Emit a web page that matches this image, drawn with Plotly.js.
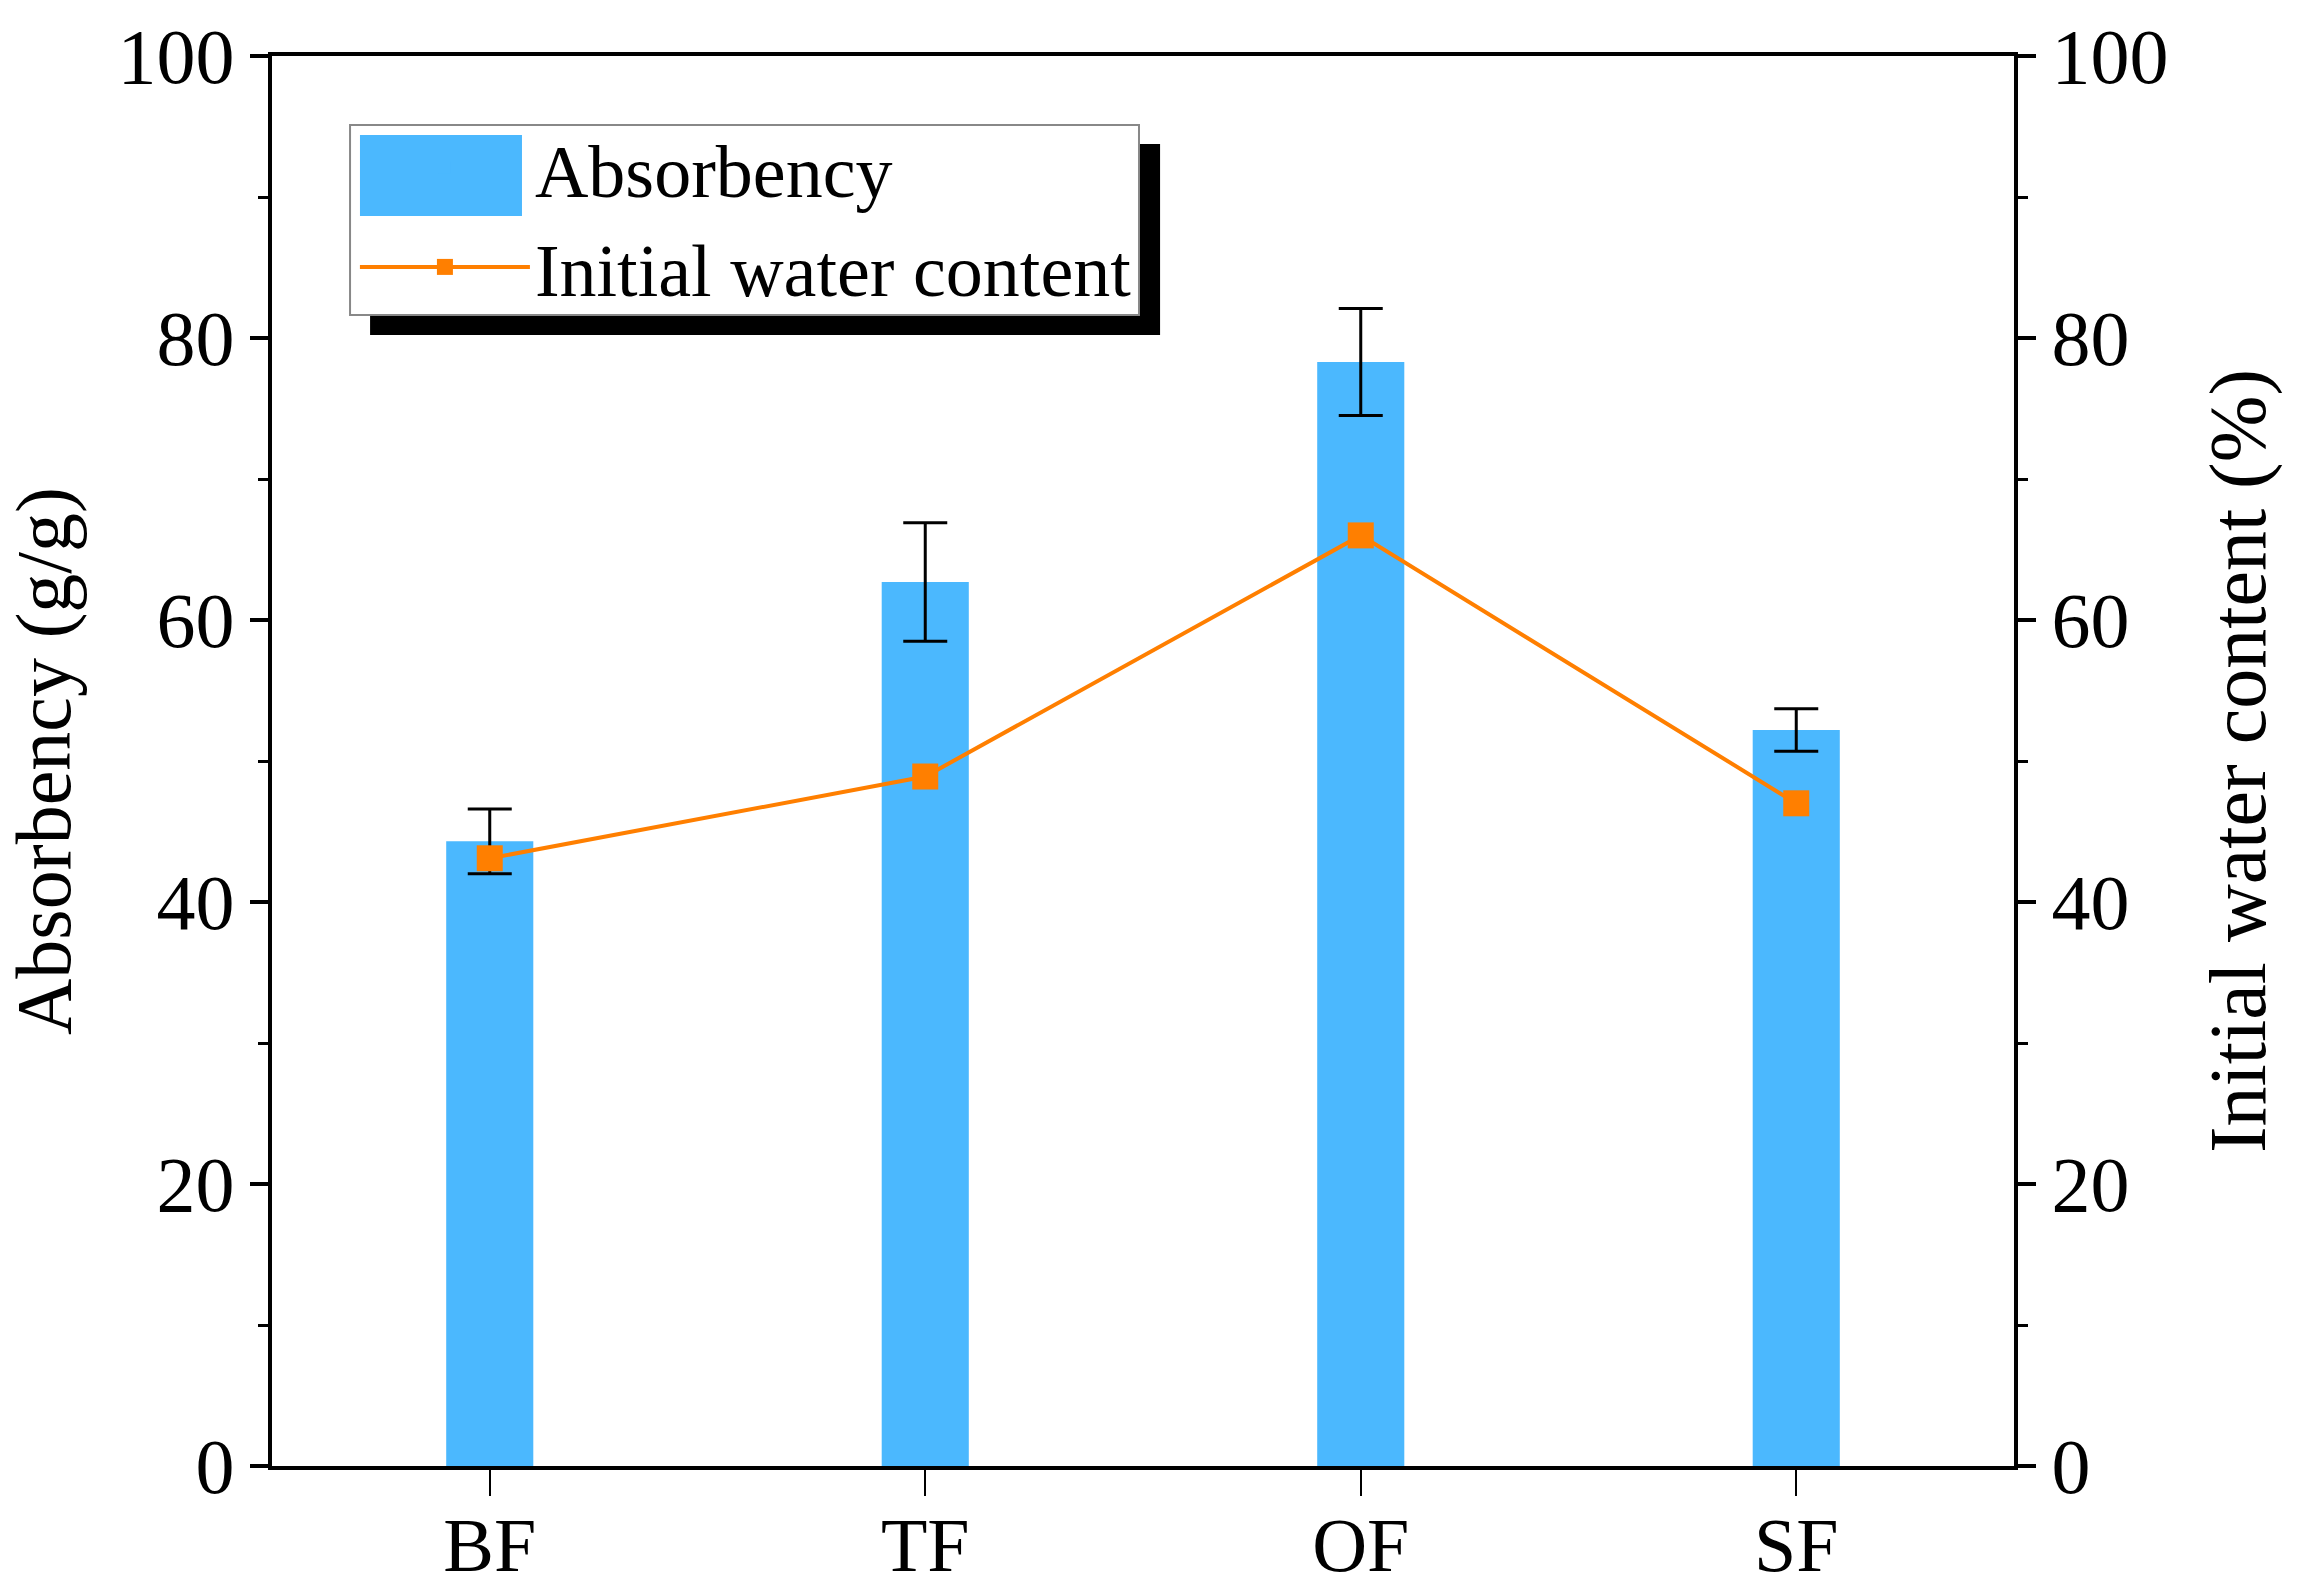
<!DOCTYPE html>
<html>
<head>
<meta charset="utf-8">
<script src="https://cdn.plot.ly/plotly-3.0.1.min.js"></script>
<style>
  html, body { margin: 0; padding: 0; background: #fff; }
  #chart { width: 2305px; height: 1591px; }
</style>
</head>
<body>
<div id="chart"></div>
<script>
// Данные
const categories = ["BF", "TF", "OF", "SF"];
const absorbency = [44.3, 62.7, 78.3, 52.2];
const absorbencyErr = [2.3, 4.2, 3.8, 1.5];
const waterContent = [43.1, 48.9, 66.0, 47.0];

const FONT = "Liberation Serif, Times New Roman, serif";
const BAR_COLOR = "#4bb8fe";
const LINE_COLOR = "#ff7f00";

const barTrace = {
  x: categories,
  y: absorbency,
  type: "bar",
  name: "Absorbency",
  width: 0.2,
  marker: { color: BAR_COLOR, line: { width: 0 } },
  error_y: {
    type: "data",
    array: absorbencyErr,
    visible: true,
    color: "#000",
    thickness: 3,
    width: 22,
  },
};

const lineTrace = {
  x: categories,
  y: waterContent,
  type: "scatter",
  mode: "lines+markers",
  name: "Initial water content",
  yaxis: "y2",
  line: { color: LINE_COLOR, width: 4 },
  marker: { symbol: "square", size: 26, color: LINE_COLOR },
};

const axisCommon = {
  showline: true,
  linecolor: "#000",
  linewidth: 4,
  ticks: "outside",
  ticklen: 18,
  tickwidth: 4,
  tickcolor: "#000",
  showgrid: false,
  zeroline: false,
  tickfont: { family: FONT, size: 78, color: "#000" },
};

const minorTicks = { ticks: "outside", ticklen: 10, tickwidth: 3, dtick: 10, tick0: 0, tickcolor: "#000" };

// Рамка легенды с тенью и большой образец столбца (в координатах paper)
const legendShapes = [
  { x0: 0.0563, x1: 0.5098, y0: 0.8021, y1: 0.9376, fillcolor: "#000", line: { width: 0 } },
  { x0: 0.0448, x1: 0.4977, y0: 0.8163, y1: 0.9511, fillcolor: "#fff", line: { color: "#888", width: 2 } },
  { x0: 0.0505, x1: 0.1435, y0: 0.8865, y1: 0.944, fillcolor: BAR_COLOR, line: { width: 0 } },
].map((s) => ({ type: "rect", xref: "paper", yref: "paper", layer: "above", ...s }));

const layout = {
  width: 2305,
  height: 1591,
  margin: { l: 272, r: 291, t: 56, b: 125 },
  paper_bgcolor: "#fff",
  plot_bgcolor: "#fff",
  showlegend: true,
  font: { family: FONT, color: "#000" },
  xaxis: {
    ...axisCommon,
    type: "category",
    range: [-0.5, 3.5],
    ticklen: 26,
    tickwidth: 2,
    ticklabelstandoff: -16,
    mirror: true,
    tickfont: { family: FONT, size: 76, color: "#000" },
  },
  yaxis: {
    ...axisCommon,
    range: [0, 100],
    tickvals: [0, 20, 40, 60, 80, 100],
    minor: minorTicks,
    title: { text: "Absorbency (g/g)", font: { family: FONT, size: 78, color: "#000" }, standoff: 30 },
  },
  yaxis2: {
    ...axisCommon,
    overlaying: "y",
    side: "right",
    range: [0, 100],
    tickvals: [0, 20, 40, 60, 80, 100],
    minor: minorTicks,
    title: { text: "Initial water content (%)", font: { family: FONT, size: 80, color: "#000" }, standoff: 42 },
  },
  legend: {
    x: 0.0476,
    y: 0.9595,
    xanchor: "left",
    yanchor: "top",
    bgcolor: "rgba(0,0,0,0)",
    borderwidth: 0,
    font: { family: FONT, size: 74, color: "#000" },
    itemwidth: 170,
    tracegroupgap: 0,
  },
  shapes: legendShapes,
};

const config = { staticPlot: true };

Plotly.newPlot("chart", [barTrace, lineTrace], layout, config);
</script>
</body>
</html>
